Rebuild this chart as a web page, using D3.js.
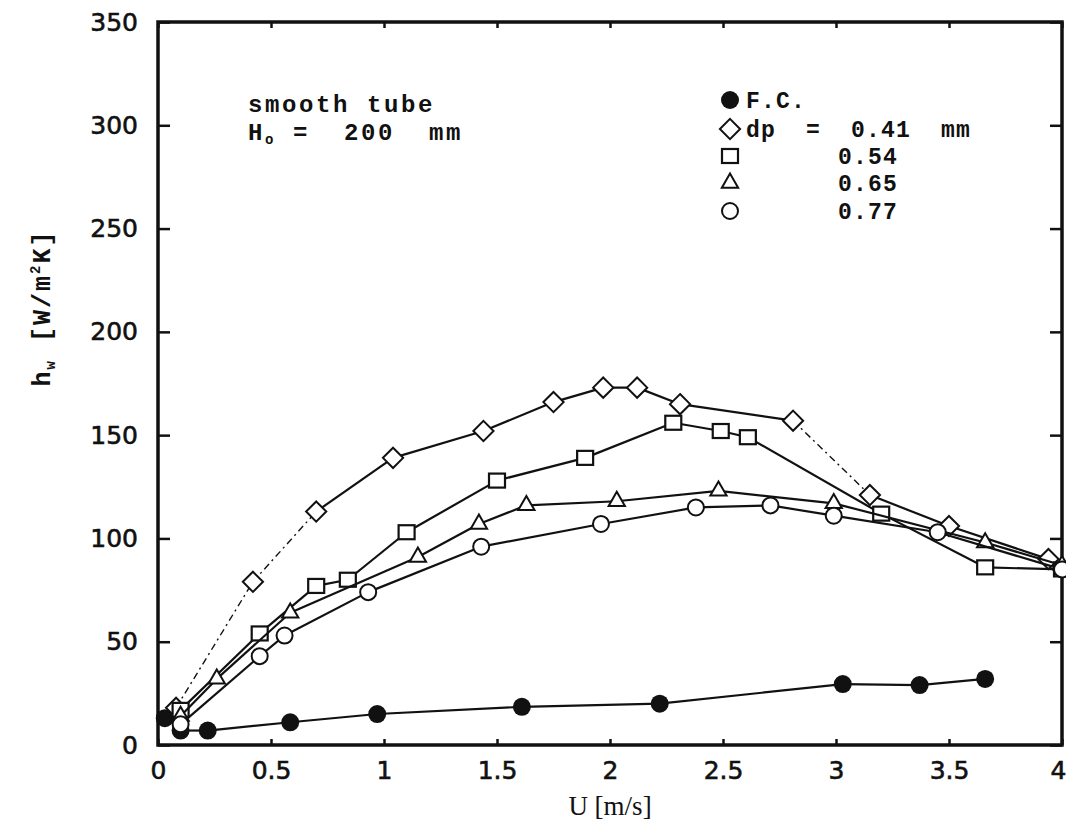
<!DOCTYPE html>
<meta charset="utf-8">
<style>
  body { margin: 0; background: white; }
  .tick text { font: 25px "DejaVu Sans", sans-serif; fill: #111; stroke: #111; stroke-width: 0.6; }
  .mono { font-family: "Liberation Mono", "DejaVu Sans Mono", monospace; font-weight: bold; fill: #111; white-space: pre; }
</style>
<body>
<svg id="chart" width="1066" height="828"></svg>
<script src="https://cdn.jsdelivr.net/npm/d3@7/dist/d3.min.js"></script>
<script>
// values
var xTicks = [0, 0.5, 1, 1.5, 2, 2.5, 3, 3.5, 4];
var yTicks = [0, 50, 100, 150, 200, 250, 300, 350];

var fcX = [0.03, 0.08, 0.1, 0.22, 0.585, 0.97, 1.61, 2.22, 3.03, 3.37, 3.66];
var fcY = [13, 16, 7, 7, 11, 15, 18.5, 20, 29.5, 29, 32];

var d041X = [0.08, 0.42, 0.70, 1.04, 1.44, 1.75, 1.97, 2.12, 2.31, 2.81, 3.15, 3.5, 3.94];
var d041Y = [18, 79, 113, 139, 152, 166, 173, 173, 165, 157, 121, 106, 90];

var d054X = [0.1, 0.45, 0.70, 0.84, 1.10, 1.50, 1.89, 2.28, 2.49, 2.61, 3.2, 3.66, 4.0];
var d054Y = [17, 54, 77, 80, 103, 128, 139, 156, 152, 149, 112, 86, 85];

var d065X = [0.1, 0.26, 0.585, 1.15, 1.42, 1.63, 2.03, 2.48, 2.99, 3.66, 4.0];
var d065Y = [14, 32, 64, 91, 107, 116, 118, 123, 117, 98, 87];

var d077X = [0.1, 0.45, 0.56, 0.93, 1.43, 1.96, 2.38, 2.71, 2.99, 3.45, 4.0];
var d077Y = [10, 43, 53, 74, 96, 107, 115, 116, 111, 103, 85];

var legendLabels = ["F.C.", "dp  =  0.41  mm", "0.54", "0.65", "0.77"];

var zip = (xs, ys) => xs.map((x, i) => [x, ys[i]]);
var series = [
  { name: "F.C.", pts: zip(fcX, fcY), sym: "fc" },
  { name: "0.41", pts: zip(d041X, d041Y), sym: "diamond", dashSegs: [0, 1, 9] },
  { name: "0.54", pts: zip(d054X, d054Y), sym: "square" },
  { name: "0.65", pts: zip(d065X, d065Y), sym: "triangle" },
  { name: "0.77", pts: zip(d077X, d077Y), sym: "circle" }
];

var margin = { top: 22, right: 4, bottom: 83, left: 158 };
var width = 1066 - margin.left - margin.right,
  height = 828 - margin.top - margin.bottom;

var svg = d3.select("#chart");
var g = svg.append("g").attr("transform", `translate(${margin.left},${margin.top})`);

var x = d3.scaleLinear().domain([0, 4]).range([0, width]);
var y = d3.scaleLinear().domain([0, 350]).range([height, 0]);

// inward ticks on all four sides
g.append("g").attr("transform", `translate(0,${height})`)
  .call(d3.axisBottom(x).tickValues(xTicks).tickSize(-6).tickPadding(16).tickFormat(d => String(d)))
  .call(a => a.select(".domain").remove())
  .call(a => a.select(".tick:last-of-type text").attr("dx", -4));
g.append("g")
  .call(d3.axisTop(x).tickValues(xTicks).tickSize(-6).tickFormat(""))
  .call(a => a.select(".domain").remove());
g.append("g")
  .call(d3.axisLeft(y).tickValues(yTicks).tickSize(-12).tickPadding(20))
  .call(a => a.select(".domain").remove());
g.append("g").attr("transform", `translate(${width},0)`)
  .call(d3.axisRight(y).tickValues(yTicks).tickSize(-12).tickFormat(""))
  .call(a => a.select(".domain").remove());
g.selectAll(".tick line").attr("stroke", "#111").attr("stroke-width", 2.5);

g.append("rect")
  .attr("width", width).attr("height", height)
  .attr("fill", "none").attr("stroke", "#111").attr("stroke-width", 3.5);

// symbols
function drawSym(sel, sym, cx, cy) {
  if (sym == "fc") {
    sel.append("circle").attr("cx", cx).attr("cy", cy).attr("r", 9).attr("fill", "#111");
  } else if (sym == "diamond") {
    sel.append("path").attr("d", d3.symbol(d3.symbolDiamond2, 260)())
      .attr("transform", `translate(${cx},${cy})`)
      .attr("fill", "white").attr("stroke", "#111").attr("stroke-width", 2);
  } else if (sym == "square") {
    sel.append("rect").attr("x", cx - 8).attr("y", cy - 7).attr("width", 16).attr("height", 14)
      .attr("fill", "white").attr("stroke", "#111").attr("stroke-width", 2.2);
  } else if (sym == "triangle") {
    sel.append("path").attr("d", d3.symbol(d3.symbolTriangle2, 190)())
      .attr("transform", `translate(${cx},${cy})`)
      .attr("fill", "white").attr("stroke", "#111").attr("stroke-width", 2);
  } else {
    sel.append("circle").attr("cx", cx).attr("cy", cy).attr("r", 8)
      .attr("fill", "white").attr("stroke", "#111").attr("stroke-width", 2);
  }
}

series.forEach(function (s) {
  var sg = g.append("g").attr("class", "series");
  var dash = s.dashSegs || [];
  for (var i = 0; i < s.pts.length - 1; i++) {
    var a = s.pts[i], b = s.pts[i + 1];
    sg.append("line")
      .attr("x1", x(a[0])).attr("y1", y(a[1]))
      .attr("x2", x(b[0])).attr("y2", y(b[1]))
      .attr("stroke", "#111")
      .attr("stroke-width", dash.includes(i) ? 1.4 : 2.2)
      .attr("stroke-dasharray", dash.includes(i) ? "7,4,2,4" : null);
  }
  s.pts.forEach(p => drawSym(sg, s.sym, x(p[0]), y(p[1])));
});

// legend
var lg = svg.append("g");
var legendY = [100, 129, 156, 183, 211];
series.forEach(function (s, i) {
  drawSym(lg, s.sym, 730, legendY[i]);
  lg.append("text").attr("class", "mono")
    .attr("x", i < 2 ? 746 : 838).attr("y", legendY[i] + 8)
    .attr("font-size", 23).attr("letter-spacing", 1.2)
    .text(legendLabels[i]);
});

// annotation
svg.append("text").attr("class", "mono").attr("x", 248).attr("y", 112)
  .attr("font-size", 24).attr("letter-spacing", 2.6).text("smooth tube");
var h0 = svg.append("text").attr("class", "mono").attr("x", 248).attr("y", 140)
  .attr("font-size", 24).attr("letter-spacing", 2.6);
h0.append("tspan").text("H");
h0.append("tspan").attr("font-size", 14).attr("dy", 4).text("o");
h0.append("tspan").attr("dy", -4).text(" =  200  mm");

// axis titles
svg.append("text")
  .attr("x", 610).attr("y", 815).attr("text-anchor", "middle")
  .attr("font-family", "Liberation Serif, serif").attr("font-size", 27).attr("fill", "#111")
  .text("U [m/s]");

var yl = svg.append("text").attr("class", "mono")
  .attr("transform", "translate(50,308) rotate(-90)")
  .attr("text-anchor", "middle").attr("font-size", 25).attr("letter-spacing", 2);
yl.append("tspan").text("h");
yl.append("tspan").attr("font-size", 14).attr("dy", 5).text("w");
yl.append("tspan").attr("dy", -5).text(" [W/m");
yl.append("tspan").attr("font-size", 14).attr("dy", -10).text("2");
yl.append("tspan").attr("dy", 10).text("K]");
</script>
</body>
